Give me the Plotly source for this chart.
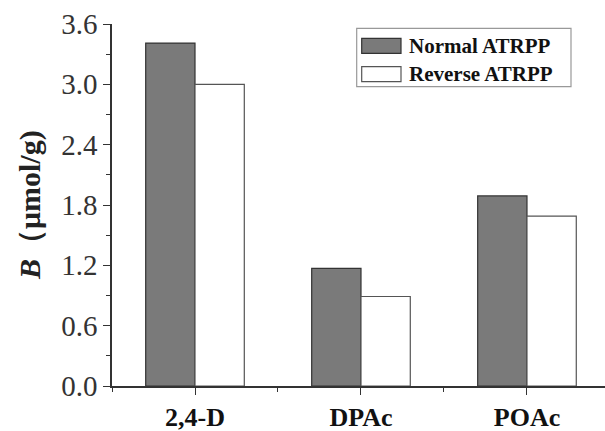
import plotly.graph_objects as go

categories = ["2,4-D", "DPAc", "POAc"]
normal_vals = [3.41, 1.17, 1.89]
reverse_vals = [3.00, 0.89, 1.69]
series_names = ["Normal ATRPP", "Reverse ATRPP"]
y_ticks = [0.0, 0.6, 1.2, 1.8, 2.4, 3.0, 3.6]

W, H = 605, 431
L, R, T, B = 112, 0, 24, 45
pw, ph = W - L - R, H - T - B

def px(x):
    return (x - L) / pw

def py(y):
    return (H - B - y) / ph

xpos = list(range(len(categories)))

fig = go.Figure()
fig.add_trace(go.Bar(x=xpos, y=normal_vals, name=series_names[0],
                     marker=dict(color="#7a7a7a", line=dict(color="#333333", width=1.2)),
                     showlegend=False))
fig.add_trace(go.Bar(x=xpos, y=reverse_vals, name=series_names[1],
                     marker=dict(color="#ffffff", line=dict(color="#555555", width=1.2)),
                     showlegend=False))

serif = "Liberation Serif"
fig.update_layout(
    width=W, height=H,
    margin=dict(l=L, r=R, t=T, b=B, autoexpand=False),
    paper_bgcolor="white", plot_bgcolor="white",
    barmode="group", bargap=0.406, bargroupgap=0,
    font=dict(family=serif, color="#222222"),
    xaxis=dict(range=[-0.5, 2.47], tickvals=xpos, ticktext=["<b>%s</b>" % c for c in categories],
               tickfont=dict(family=serif, size=26, color="#111111"),
               showline=True, linecolor="#333333", linewidth=1.5,
               ticks="outside", ticklen=7, tickwidth=1.3, tickcolor="#333333",
               minor=dict(dtick=0.5, tick0=-0.5, ticks="outside", ticklen=4, tickwidth=1.2, tickcolor="#333333"),
               showgrid=False, zeroline=False, fixedrange=True),
    yaxis=dict(range=[0, 3.6], tickvals=y_ticks, ticktext=["%.1f" % v for v in y_ticks],
               tickfont=dict(family=serif, size=29, color="#333333"),
               showline=True, linecolor="#333333", linewidth=1.5,
               ticks="outside", ticklen=7, tickwidth=1.3, tickcolor="#333333",
               minor=dict(dtick=0.3, tick0=0, ticks="outside", ticklen=4, tickwidth=1.2, tickcolor="#333333"),
               showgrid=False, zeroline=False, fixedrange=True),
)

# y-axis title
fig.add_annotation(xref="paper", yref="paper", x=px(30), y=py(205), text="<b><i>B</i>（μmol/g)</b>",
                   textangle=-90, showarrow=False, font=dict(family=serif, size=30, color="#222222"),
                   xanchor="center", yanchor="middle")

# legend box
fig.add_shape(type="rect", xref="paper", yref="paper", x0=px(356.7), x1=px(571), y0=py(86.7), y1=py(28.3),
              line=dict(color="#999999", width=1.2), fillcolor="white")
leg_fill = ["#7a7a7a", "#ffffff"]
leg_line = ["#333333", "#555555"]
rows = [45.8, 74.2]
for i, name in enumerate(series_names):
    fig.add_shape(type="rect", xref="paper", yref="paper", x0=px(361.7), x1=px(401),
                  y0=py(rows[i] + 7.5), y1=py(rows[i] - 7.5),
                  line=dict(color=leg_line[i], width=1.2), fillcolor=leg_fill[i])
    fig.add_annotation(xref="paper", yref="paper", x=px(407), y=py(rows[i]), text="<b>%s</b>" % name,
                       showarrow=False, xanchor="left", yanchor="middle",
                       font=dict(family=serif, size=21, color="#111111"))

fig.write_html("out.html", config={"displayModeBar": False},
               post_script="document.body.style.margin='0';document.body.style.overflow='hidden';")
